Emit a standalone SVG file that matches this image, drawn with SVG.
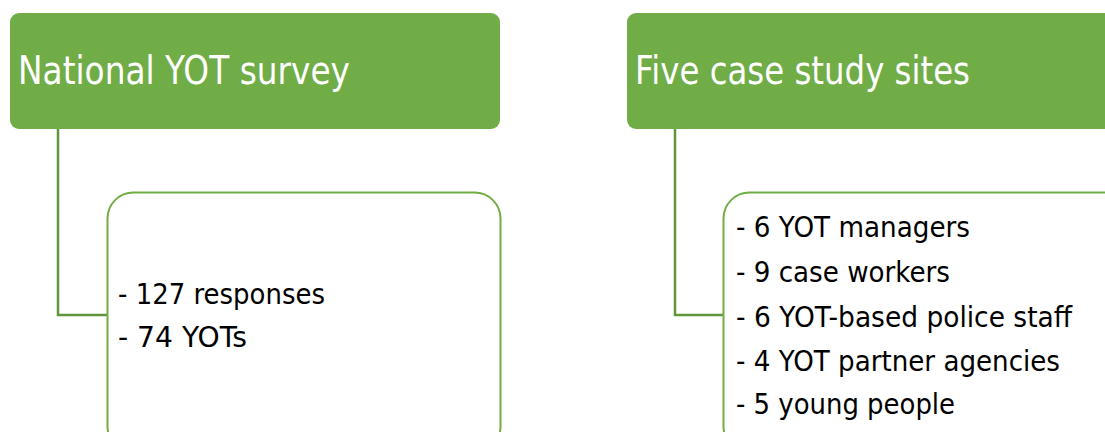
<svg xmlns="http://www.w3.org/2000/svg" width="1105" height="432" viewBox="0 0 1105 432">
<style>
.hdr{fill:#70AD47}
.box{fill:#fff;stroke:#70AD47;stroke-width:2}
.conn{fill:none;stroke:#5F963C;stroke-width:2.5}
.ht{font-family:"DejaVu Sans",sans-serif;font-size:39px;fill:#fff}
.bt{font-family:"DejaVu Sans",sans-serif;font-size:29px;fill:#000}
</style>
<rect width="1105" height="432" fill="#fff"/>
<g id="connectors">
<path class="conn" d="M58,129 V315 H108"/>
<path class="conn" d="M675,129 V315 H724"/>
</g>
<g id="n1">
<rect class="hdr" x="10" y="13" width="490" height="116" rx="9"/>
<text class="ht" x="18" y="84" textLength="332" lengthAdjust="spacingAndGlyphs">National YOT survey</text>
</g>
<g id="n2">
<rect class="box" x="107.5" y="192.5" width="393" height="260" rx="26"/>
<text class="bt" x="118" y="304" textLength="207" lengthAdjust="spacingAndGlyphs">- 127 responses</text>
<text class="bt" x="118" y="347" textLength="129" lengthAdjust="spacingAndGlyphs">- 74 YOTs</text>
</g>
<g id="n3">
<rect class="hdr" x="627" y="13" width="500" height="116" rx="9"/>
<text class="ht" x="635" y="84" textLength="335" lengthAdjust="spacingAndGlyphs">Five case study sites</text>
</g>
<g id="n4">
<rect class="box" x="723.5" y="192.5" width="420" height="260" rx="26"/>
<text class="bt" x="736" y="237" textLength="234" lengthAdjust="spacingAndGlyphs">- 6 YOT managers</text>
<text class="bt" x="736" y="282" textLength="214" lengthAdjust="spacingAndGlyphs">- 9 case workers</text>
<text class="bt" x="736" y="327" textLength="336" lengthAdjust="spacingAndGlyphs">- 6 YOT-based police staff</text>
<text class="bt" x="736" y="371" textLength="324" lengthAdjust="spacingAndGlyphs">- 4 YOT partner agencies</text>
<text class="bt" x="736" y="414" textLength="219" lengthAdjust="spacingAndGlyphs">- 5 young people</text>
</g>
</svg>
